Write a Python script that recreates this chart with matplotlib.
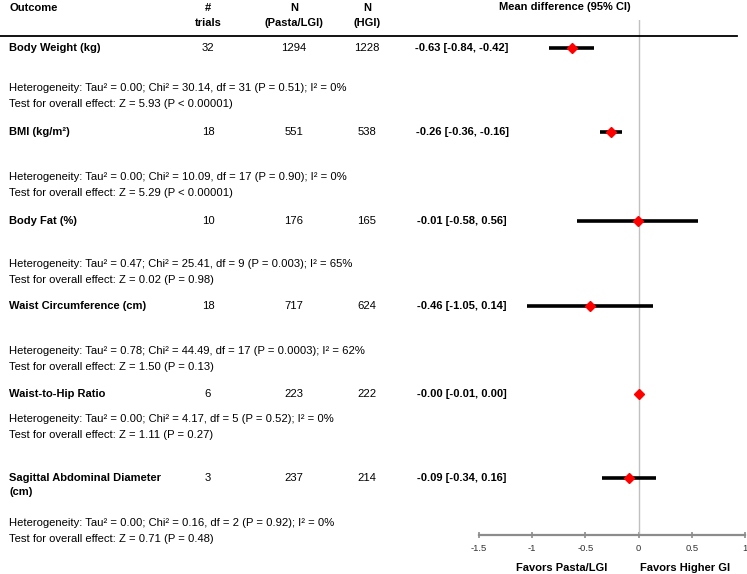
import matplotlib
matplotlib.use("Agg")
import matplotlib.pyplot as plt
from matplotlib.lines import Line2D
from matplotlib.transforms import blended_transform_factory

plt.rcParams["font.family"] = ["Liberation Sans", "DejaVu Sans"]

# data
OUTCOMES = ["Body Weight (kg)", "BMI (kg/m²)", "Body Fat (%)", "Waist Circumference (cm)",
            "Waist-to-Hip Ratio", "Sagittal Abdominal Diameter\n(cm)"]
TRIALS = [32, 18, 10, 18, 6, 3]
N_LGI = [1294, 551, 176, 717, 223, 237]
N_HGI = [1228, 538, 165, 624, 222, 214]
MD = [-0.63, -0.26, -0.01, -0.46, -0.00, -0.09]
CI_LO = [-0.84, -0.36, -0.58, -1.05, -0.01, -0.34]
CI_HI = [-0.42, -0.16, 0.56, 0.14, 0.00, 0.16]
TAU2 = ["0.00", "0.00", "0.47", "0.78", "0.00", "0.00"]
CHI2 = ["30.14", "10.09", "25.41", "44.49", "4.17", "0.16"]
DF = [31, 17, 9, 17, 5, 2]
P_HET = ["0.51", "0.90", "0.003", "0.0003", "0.52", "0.92"]
I2 = [0, 0, 65, 62, 0, 0]
Z = ["5.93", "5.29", "0.02", "1.50", "1.11", "0.71"]
P_Z = ["P < 0.00001", "P < 0.00001", "P = 0.98", "P = 0.13", "P = 0.27", "P = 0.48"]
XTICKS = [-1.5, -1, -0.5, 0, 0.5, 1]

# layout (pixel rows, top down)
ROW_Y = [48, 132, 221, 306, 394, 478]
HET_Y = [88, 177, 264, 351, 419, 523]
W, H = 747, 574

fig = plt.figure(figsize=(W / 100, H / 100), dpi=100)
ax = fig.add_axes([479 / W, 1 - 535 / H, 266 / W, 515 / H])
ax.set_xlim(-1.5, 1)
ax.set_ylim(535, 20)
ax.patch.set_alpha(0)
for side in ["top", "right", "left"]:
    ax.spines[side].set_visible(False)
ax.spines["bottom"].set_color("#8c8c8c")
ax.spines["bottom"].set_linewidth(1.6)
ax.set_yticks([])
ax.set_xticks(XTICKS)
ax.set_xticklabels([f"{t:g}" for t in XTICKS], fontsize=6.8, color="#333333")
ax.tick_params(axis="x", direction="inout", length=5, width=1.2, color="#8c8c8c", pad=4)
ax.axvline(0, color="#c0c0c0", lw=1)

for y, m, lo, hi in zip(ROW_Y, MD, CI_LO, CI_HI):
    ax.plot([lo, hi], [y, y], color="black", lw=2.6, solid_capstyle="butt", zorder=3)
    ax.plot(m, y, marker="D", color="#ff0000", ms=5.5, mec="#ff0000", zorder=4)

tr = blended_transform_factory(fig.transFigure, ax.transData)
bold = dict(fontsize=8, fontweight="bold", transform=tr, va="center")
norm = dict(fontsize=8.1, transform=tr, va="center")

for i, name in enumerate(OUTCOMES):
    y = ROW_Y[i]
    for k, part in enumerate(name.split("\n")):
        ax.text(9 / W, y + 14 * k, part, ha="left", **bold)
    ax.text(208 / W, y, str(TRIALS[i]), ha="center", **norm)
    ax.text(294 / W, y, str(N_LGI[i]), ha="center", **norm)
    ax.text(367 / W, y, str(N_HGI[i]), ha="center", **norm)
    ax.text(462 / W, y, f"{MD[i]:.2f} [{CI_LO[i]:.2f}, {CI_HI[i]:.2f}]", ha="center", **bold)
    het = (f"Heterogeneity: Tau² = {TAU2[i]}; Chi² = {CHI2[i]}, df = {DF[i]} "
           f"(P = {P_HET[i]}); I² = {I2[i]}%")
    ax.text(9 / W, HET_Y[i], het, ha="left", **norm)
    ax.text(9 / W, HET_Y[i] + 16, f"Test for overall effect: Z = {Z[i]} ({P_Z[i]})", ha="left", **norm)

# header
hdr = dict(fontsize=8, fontweight="bold", ha="center", va="center")
fig.text(9 / W, 1 - 8 / H, "Outcome", ha="left", va="center", fontsize=8, fontweight="bold")
fig.text(208 / W, 1 - 8 / H, "#", **hdr)
fig.text(208 / W, 1 - 23 / H, "trials", **hdr)
fig.text(294 / W, 1 - 8 / H, "N", **hdr)
fig.text(294 / W, 1 - 23 / H, "(Pasta/LGI)", **hdr)
fig.text(367 / W, 1 - 8 / H, "N", **hdr)
fig.text(367 / W, 1 - 23 / H, "(HGI)", **hdr)
fig.text(565 / W, 1 - 7 / H, "Mean difference (95% CI)", **hdr)
fig.add_artist(Line2D([0, 737 / W], [1 - 36 / H, 1 - 36 / H], color="black", lw=1.3,
                      transform=fig.transFigure))

fig.text(562 / W, 1 - 568 / H, "Favors Pasta/LGI", **hdr)
fig.text(685 / W, 1 - 568 / H, "Favors Higher GI", **hdr)

fig.savefig("out.png", dpi=100)
